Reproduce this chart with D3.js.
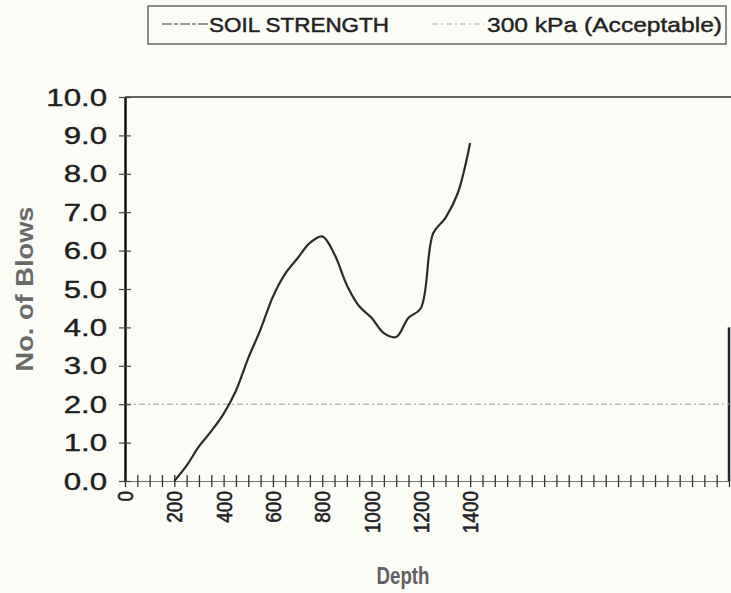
<!DOCTYPE html>
<html>
<head>
<meta charset="utf-8">
<script src="https://cdn.jsdelivr.net/npm/d3@7"></script>
<style>
  body { margin: 0; background: #fcfcf7; }
  svg { display: block; font-family: "Liberation Sans", Arial, sans-serif; }
</style>
</head>
<body>
<script>
// depth (x) and number of blows (y)
const depths = [200, 250, 300, 350, 400, 450, 500, 550, 600, 650, 700, 750, 800,
                850, 900, 950, 1000, 1050, 1100, 1150, 1200, 1250, 1300, 1350, 1400]
const blows  = [0.0, 0.4, 0.9, 1.3, 1.75, 2.35, 3.2, 3.95, 4.8, 5.4, 5.8, 6.2, 6.37,
                5.9, 5.1, 4.55, 4.25, 3.85, 3.75, 4.25, 4.5, 6.45, 6.85, 7.5, 8.8]
const acceptable = 2.0
const xLabels = [0, 200, 400, 600, 800, 1000, 1200, 1400]
const yTicks = [0, 1, 2, 3, 4, 5, 6, 7, 8, 9, 10]
const legendNames = ["SOIL STRENGTH", "300 kPa (Acceptable)"]

const W = 731, H = 593
const margin = {left: 125, right: 2, top: 97, bottom: 112}
const xMax = 2450

const svg = d3.select("body").append("svg").attr("width", W).attr("height", H)

const x = d3.scaleLinear().domain([0, xMax]).range([margin.left, W - margin.right])
const y = d3.scaleLinear().domain([0, 10]).range([H - margin.bottom, margin.top])

// plot frame (top + right)
svg.append("line")
  .attr("x1", x(0)).attr("x2", W)
  .attr("y1", y(10)).attr("y2", y(10))
  .attr("stroke", "#333").attr("stroke-width", 1.5)
svg.append("line")
  .attr("x1", x(xMax)).attr("x2", x(xMax))
  .attr("y1", y(4)).attr("y2", y(0))
  .attr("stroke", "#223").attr("stroke-width", 2.5)

// acceptable line
svg.append("line")
  .attr("x1", x(0)).attr("x2", x(xMax))
  .attr("y1", y(acceptable)).attr("y2", y(acceptable))
  .attr("stroke", "#b8b8b8").attr("stroke-width", 1.5)
  .attr("stroke-dasharray", "6,3,2,3")

// x axis: crossing ticks every 50
const xAxis = d3.axisBottom(x)
  .tickValues(d3.range(0, xMax + 1, 50))
  .tickSize(0)
  .tickFormat("")
const gx = svg.append("g").attr("transform", `translate(0,${y(0)})`).call(xAxis)
gx.select(".domain").attr("stroke", "#777").attr("stroke-width", 1.2)
gx.selectAll(".tick line").attr("y1", -6).attr("y2", 6)
  .attr("stroke", "#333").attr("stroke-width", 1.3)

// x labels, rotated
svg.append("g").selectAll("text").data(xLabels).join("text")
  .attr("transform", d => `translate(${x(d) + 8},${y(0) + 10}) rotate(-90) scale(1,1.2)`)
  .attr("text-anchor", "end")
  .attr("font-size", 19)
  .attr("fill", "#222")
  .attr("stroke", "#222").attr("stroke-width", 0.5)
  .text(d => d)

// y axis
const yAxis = d3.axisLeft(y).tickValues(yTicks).tickSize(0).tickFormat(d3.format(".1f"))
const gy = svg.append("g").attr("transform", `translate(${x(0)},0)`).call(yAxis)
gy.select(".domain").attr("stroke", "#111").attr("stroke-width", 2.5)
gy.selectAll(".tick line").attr("x1", -6).attr("x2", 6).attr("stroke", "#444").attr("stroke-width", 1.2)
gy.selectAll(".tick text")
  .attr("x", 0).attr("dy", null)
  .attr("transform", "translate(-18,0) scale(1.3,1)")
  .attr("dominant-baseline", "central")
  .attr("font-size", 24).attr("fill", "#1e1e1e")
  .attr("stroke", "#1e1e1e").attr("stroke-width", 0.4)
  .attr("font-family", "Liberation Sans, Arial, sans-serif")

// soil strength curve
const line = d3.line()
  .x((d, i) => x(depths[i]))
  .y(d => y(d))
  .curve(d3.curveCatmullRom.alpha(0.5))
svg.append("path").datum(blows)
  .attr("d", line)
  .attr("fill", "none")
  .attr("stroke", "#2b2b2b")
  .attr("stroke-width", 2.2)

// axis titles
svg.append("text")
  .attr("transform", `translate(${33},${(y(0) + y(10)) / 2}) rotate(-90)`)
  .attr("text-anchor", "middle")
  .attr("font-size", 24).attr("font-weight", "bold").attr("fill", "#6a6a6a")
  .attr("textLength", 165).attr("lengthAdjust", "spacingAndGlyphs")
  .text("No. of Blows")
svg.append("text")
  .attr("x", 403).attr("y", 584)
  .attr("text-anchor", "middle")
  .attr("font-size", 23).attr("font-weight", "bold").attr("fill", "#5f5f5f")
  .attr("textLength", 53).attr("lengthAdjust", "spacingAndGlyphs")
  .text("Depth")

// legend
const lg = svg.append("g")
lg.append("rect").attr("x", 148).attr("y", 6).attr("width", 578).attr("height", 38)
  .attr("fill", "none").attr("stroke", "#444").attr("stroke-width", 1.2)
lg.append("line").attr("x1", 162).attr("x2", 208).attr("y1", 24).attr("y2", 24)
  .attr("stroke", "#777").attr("stroke-width", 1.5).attr("stroke-dasharray", "10,2,4,2")
lg.append("text").attr("x", 209).attr("y", 32)
  .attr("font-size", 21).attr("fill", "#222")
  .attr("stroke", "#222").attr("stroke-width", 0.5)
  .attr("textLength", 180).attr("lengthAdjust", "spacingAndGlyphs")
  .text(legendNames[0])
lg.append("line").attr("x1", 432).attr("x2", 484).attr("y1", 24).attr("y2", 24)
  .attr("stroke", "#c8c8c8").attr("stroke-width", 1.5).attr("stroke-dasharray", "6,3,2,3")
lg.append("text").attr("x", 487).attr("y", 32)
  .attr("font-size", 21).attr("fill", "#222")
  .attr("stroke", "#222").attr("stroke-width", 0.4)
  .attr("textLength", 235).attr("lengthAdjust", "spacingAndGlyphs")
  .text(legendNames[1])
</script>
</body>
</html>
